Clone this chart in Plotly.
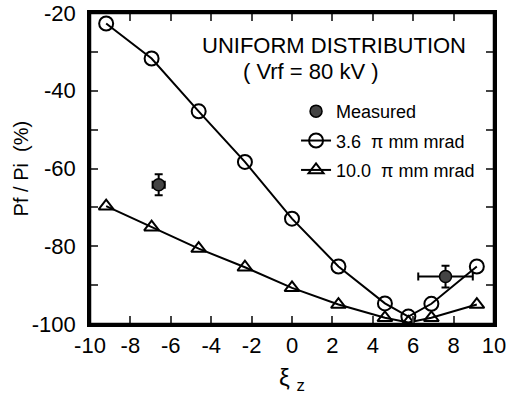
import plotly.graph_objects as go

xi = [-9.2, -6.95, -4.62, -2.33, 0.0, 2.3, 4.6, 5.76, 6.9, 9.15]
p_36 = [-22.7, -31.7, -45.3, -58.3, -72.9, -85.2, -94.7, -98.1, -94.8, -85.2]
p_100 = [-69.7, -75.1, -80.6, -85.4, -90.7, -95.0, -98.4, -99.6, -98.4, -95.0]

meas_x = [-6.6, 7.6]
meas_y = [-64.2, -87.8]
meas_ex = [0.3, 1.35]
meas_ey = [2.7, 2.8]

x_ticks = [-10, -8, -6, -4, -2, 0, 2, 4, 6, 8, 10]
x_labels = ["-10", "-8", "-6", "-4", "-2", "0", "2", "4", "6", "8", "10"]
y_ticks = [-100, -90, -80, -70, -60, -50, -40, -30, -20]
y_labels = ["-100", "", "-80", "", "-60", "", "-40", "", "-20"]

FONT = "Liberation Sans, Arial, sans-serif"

fig = go.Figure()
fig.add_trace(go.Scatter(
    x=meas_x, y=meas_y, mode="markers", name="Measured", legendgroup="a",
    marker=dict(symbol="circle", size=12, color="#444444", line=dict(color="black", width=1.5)),
    error_x=dict(type="data", array=meas_ex, color="black", thickness=2, width=4),
    error_y=dict(type="data", array=meas_ey, color="black", thickness=2, width=4),
))
fig.add_trace(go.Scatter(
    x=xi, y=p_36, mode="lines+markers", name="3.6  π mm mrad", legendgroup="b",
    line=dict(color="black", width=2),
    marker=dict(symbol="circle-open", size=14, color="black", line=dict(width=2)),
))
fig.add_trace(go.Scatter(
    x=xi, y=p_100, mode="lines+markers", name="10.0  π mm mrad", legendgroup="c",
    line=dict(color="black", width=2),
    marker=dict(symbol="triangle-up-open", size=13, color="black", line=dict(width=2)),
))

fig.add_annotation(x=0.935, y=0.897, xref="paper", yref="paper", xanchor="right", yanchor="middle",
                   text="UNIFORM DISTRIBUTION",
                   showarrow=False, font=dict(size=22, color="black", family=FONT))
fig.add_annotation(x=0.547, y=0.812, xref="paper", yref="paper", xanchor="center", yanchor="middle",
                   text="( Vrf = 80 kV )",
                   showarrow=False, font=dict(size=22, color="black", family=FONT))
fig.add_annotation(x=-0.171, y=0.5, xref="paper", yref="paper", xanchor="center", yanchor="middle",
                   text="Pf / Pi  (%)",
                   textangle=-90, showarrow=False, font=dict(size=20, color="black", family=FONT))
fig.add_annotation(x=0.5, y=-0.18, xref="paper", yref="paper", xanchor="center", yanchor="middle",
                   text="ξ <sub>z</sub>",
                   showarrow=False, font=dict(size=24, color="black", family=FONT))

# plot frame
fig.add_shape(type="rect", xref="paper", yref="paper", x0=0, x1=1, y0=0, y1=1,
              line=dict(color="black", width=2.5), layer="above")

fig.update_layout(
    width=507, height=405,
    margin=dict(l=90, r=13, t=13, b=81),
    paper_bgcolor="white", plot_bgcolor="white",
    font=dict(family=FONT, color="black", size=22),
    showlegend=True,
    legend=dict(x=0.51, y=0.743, xanchor="left", yanchor="top", bgcolor="rgba(0,0,0,0)",
                font=dict(size=18), tracegroupgap=3, itemwidth=30),
    xaxis=dict(range=[-10, 10], tickvals=x_ticks, ticktext=x_labels, ticks="inside", ticklen=8,
               tickwidth=2, showline=True, linewidth=2.5, linecolor="black", mirror="allticks",
               showgrid=False, zeroline=False, ticklabelstandoff=0, automargin=False,
               ticklabeloverflow="allow"),
    yaxis=dict(range=[-100, -20], tickvals=y_ticks, ticktext=y_labels, ticks="inside", ticklen=8,
               tickwidth=2, showline=True, linewidth=2.5, linecolor="black", mirror="allticks",
               showgrid=False, zeroline=False, ticklabelstandoff=7, automargin=False,
               ticklabeloverflow="allow"),
)

fig.write_html(
    "out.html",
    config={"displayModeBar": False},
    post_script="document.body.style.margin='0';document.body.style.overflow='hidden';",
)
